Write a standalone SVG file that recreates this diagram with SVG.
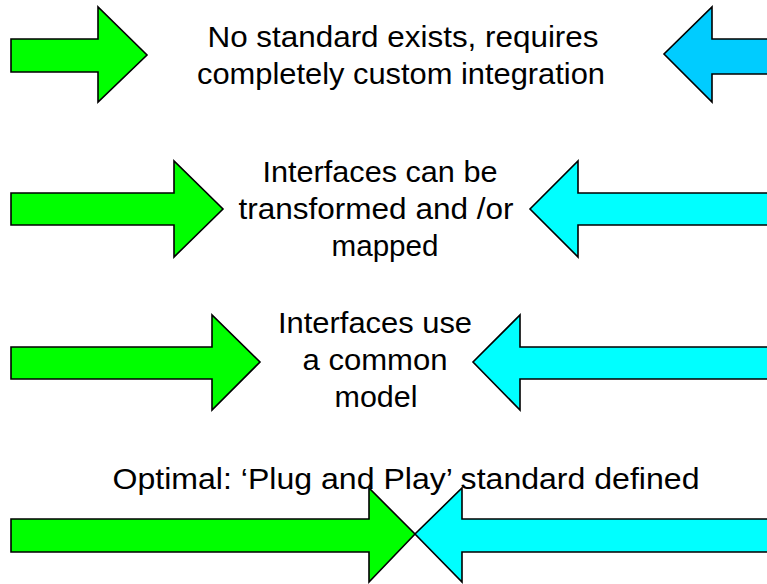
<svg xmlns="http://www.w3.org/2000/svg" width="767" height="584" viewBox="0 0 767 584">
<style>
.t{font-family:"Liberation Sans",Arial,sans-serif;font-size:29px;fill:#000;text-anchor:middle}
.a{stroke:#000;stroke-width:1.6;stroke-linejoin:miter}
.g{fill:#00FF00}
.c{fill:#00FFFF}
.b{fill:#00CCFF}
</style>
<rect width="767" height="584" fill="#fff"/>
<g id="label1">
<text class="t" x="403" y="47" textLength="391" lengthAdjust="spacingAndGlyphs">No standard exists, requires</text>
<text class="t" x="401" y="84" textLength="408" lengthAdjust="spacingAndGlyphs">completely custom integration</text>
</g>
<g id="label2">
<text class="t" x="380" y="182" textLength="235" lengthAdjust="spacingAndGlyphs">Interfaces can be</text>
<text class="t" x="376" y="219" textLength="275" lengthAdjust="spacingAndGlyphs">transformed and /or</text>
<text class="t" x="385" y="256" textLength="107" lengthAdjust="spacingAndGlyphs">mapped</text>
</g>
<g id="label3">
<text class="t" x="375" y="333" textLength="194" lengthAdjust="spacingAndGlyphs">Interfaces use</text>
<text class="t" x="375" y="370" textLength="145" lengthAdjust="spacingAndGlyphs">a common</text>
<text class="t" x="376" y="407" textLength="83" lengthAdjust="spacingAndGlyphs">model</text>
</g>
<g id="label4">
<text class="t" x="406" y="489" textLength="587" lengthAdjust="spacingAndGlyphs">Optimal: ‘Plug and Play’ standard defined</text>
</g>
<g id="arrows">
<g id="arrow1-left"><polygon class="a g" points="11,39 98,39 98,7 147,55 98,102 98,72 11,72"/></g>
<g id="arrow1-right"><polygon class="a b" points="775,39 712,39 712,7 664,54 712,102 712,74 775,74"/></g>
<g id="arrow2-left"><polygon class="a g" points="11,193 174,193 174,161 223,209 174,257 174,225 11,225"/></g>
<g id="arrow2-right"><polygon class="a c" points="775,193 578,193 578,161 530,209 578,257 578,225 775,225"/></g>
<g id="arrow3-left"><polygon class="a g" points="11,347 212,347 212,315 260,362 212,410 212,379 11,379"/></g>
<g id="arrow3-right"><polygon class="a c" points="775,347 520,347 520,315 473,362 520,410 520,379 775,379"/></g>
<g id="arrow4-left"><polygon class="a g" points="11,519 369,519 369,488 415,534 369,582 369,552 11,552"/></g>
<g id="arrow4-right"><polygon class="a c" points="775,519 462,519 462,488 415,534 462,582 462,552 775,552"/></g>
</g>
</svg>
